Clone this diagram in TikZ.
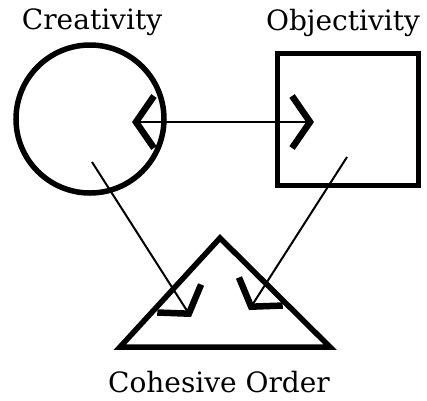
\documentclass[tikz,border=0pt]{standalone}
\usepackage{fontspec}
\setmainfont{DejaVu Serif}
\usetikzlibrary{arrows.meta}

\begin{document}
\begin{tikzpicture}[x=1pt,y=-1pt,
  outline/.style={line width=5.5pt},
  link/.style={line width=2pt,-{Straight Barb[length=18pt,width=52pt,line width=6.5pt]}},
  caption/.style={anchor=base,font=\fontsize{28}{32}\selectfont}]
\useasboundingbox (0,0) rectangle (427,400);
\coordinate (cre) at (90,119);
\coordinate (sqa) at (277,53);
\coordinate (sqb) at (418,185);
\coordinate (top) at (220,238);
\coordinate (bl) at (120,347);
\coordinate (br) at (330,347);
\coordinate (m) at (223,122);
\coordinate (cl) at (132,122);
\coordinate (cr) at (314,122);
\coordinate (cs) at (92,162);
\coordinate (ct) at (191,317);
\coordinate (os) at (347,157);
\coordinate (ot) at (249,310);
\draw[outline] (cre) circle (74);
\draw[outline,line width=5pt] (sqa) rectangle (sqb);
\draw[outline,line join=miter] (top)--(bl)--(br)--cycle;
\draw[link] (m)--(cl);
\draw[link] (m)--(cr);
\draw[link] (cs)--(ct);
\draw[link] (os)--(ot);
\node[caption] (creat) at (92,29) {Creativity};
\node[caption] (objec) at (343,30) {Objectivity};
\node[caption] (order) at (219,392) {Cohesive Order};
\end{tikzpicture}
\end{document}
